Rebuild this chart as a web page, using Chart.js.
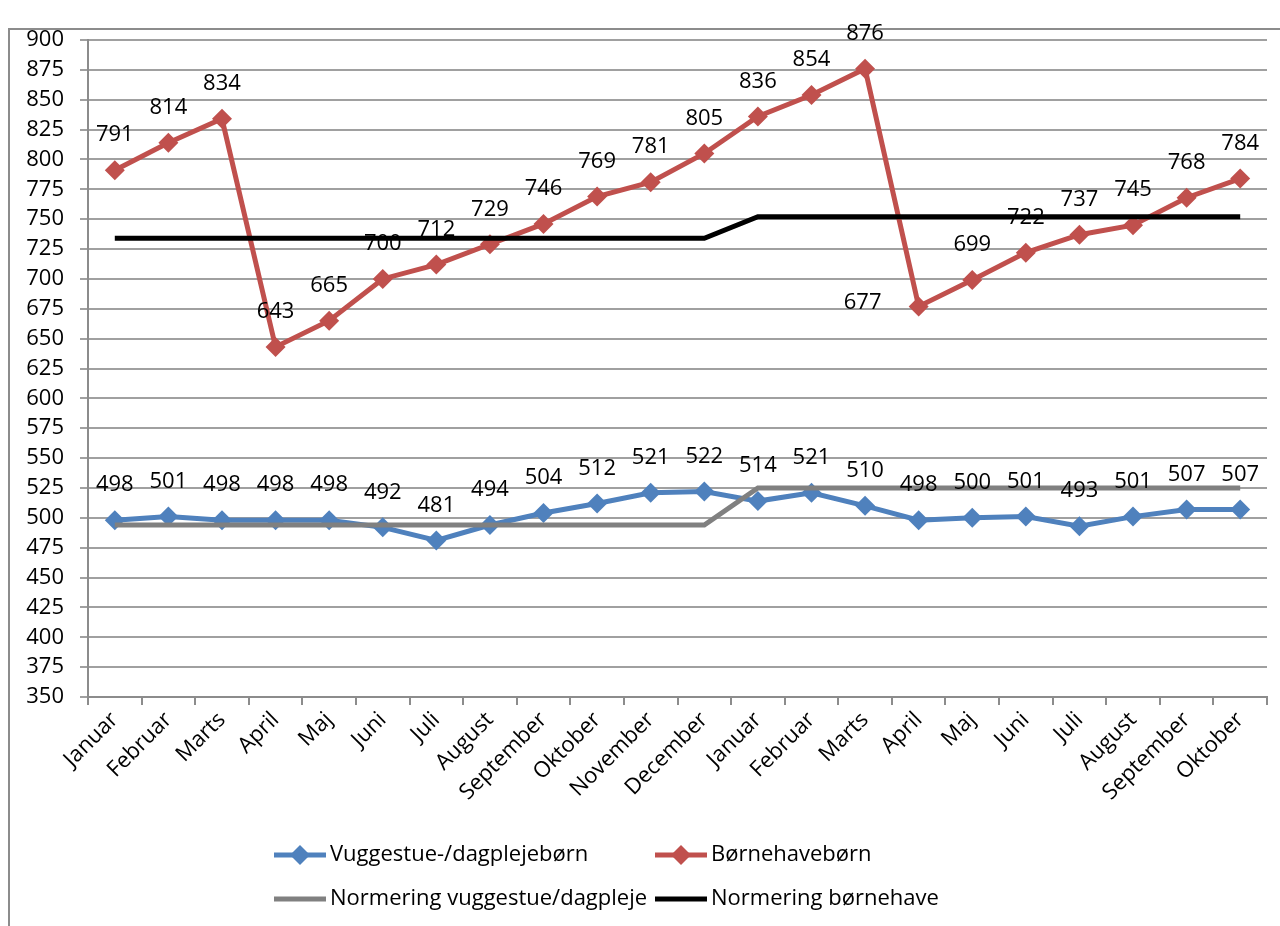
<!DOCTYPE html>
<html>
<head>
<meta charset="utf-8">
<script src="https://cdn.jsdelivr.net/npm/chart.js@4"></script>
<style>
  html, body { margin:0; padding:0; background:#fff; }
  #wrap { width:1280px; height:926px; }
</style>
</head>
<body>
<div id="wrap"><canvas id="c" width="1280" height="926"></canvas></div>
<script>
// måneder (to år)
const months = ["Januar","Februar","Marts","April","Maj","Juni","Juli","August","September","Oktober","November","December",
                "Januar","Februar","Marts","April","Maj","Juni","Juli","August","September","Oktober"];

const vuggestue = [498,501,498,498,498,492,481,494,504,512,521,522,514,521,510,498,500,501,493,501,507,507];
const boernehave = [791,814,834,643,665,700,712,729,746,769,781,805,836,854,876,677,699,722,737,745,768,784];
const normVuggestue = [494,494,494,494,494,494,494,494,494,494,494,494,525,525,525,525,525,525,525,525,525,525];
const normBoernehave = [734,734,734,734,734,734,734,734,734,734,734,734,752,752,752,752,752,752,752,752,752,752];

const yMin = 350, yMax = 900, yStep = 25;

const FONT = "'Open Sans', 'Noto Sans', sans-serif";
const FS = 22;

// labels over punkterne
const labelPlugin = {
    id: 'labels',
    afterDatasetsDraw(chart){
        const ctx = chart.ctx;
        ctx.save();
        ctx.font = FS + "px " + FONT;
        ctx.fillStyle = "#000";
        ctx.textAlign = "center";
        ctx.textBaseline = "middle";
        [0,1].forEach(di=>{
            const meta = chart.getDatasetMeta(di);
            const data = chart.data.datasets[di].data;
            meta.data.forEach((pt,i)=>{
                let dx = 0, dy = -35;
                if(di===1 && i===15){ dx = -56; dy = -4; }
                ctx.fillText(data[i], pt.x+dx, pt.y+dy);
            });
        });
        ctx.restore();
    }
};

// ramme + legend
const framePlugin = {
    id: 'frame',
    beforeDraw(chart){
        const ctx = chart.ctx;
        ctx.save();
        ctx.fillStyle = "#fff";
        ctx.fillRect(0,0,chart.width,chart.height);
        ctx.strokeStyle = "#8c8c8c";
        ctx.lineWidth = 2;
        ctx.strokeRect(9,29,1400,1000);
        ctx.restore();
    },
    afterDraw(chart){
        const ctx = chart.ctx;
        const ds = chart.data.datasets;
        const pos = [[274,855],[655,855],[274,899],[655,899]];
        ctx.save();
        ctx.font = FS + "px " + FONT;
        ctx.textBaseline = "middle";
        ctx.textAlign = "left";
        ds.forEach((d,k)=>{
            const [x,y] = pos[k];
            ctx.strokeStyle = d.borderColor;
            ctx.lineWidth = 5;
            ctx.beginPath();
            ctx.moveTo(x,y); ctx.lineTo(x+52,y);
            ctx.stroke();
            if(d.pointRadius>0){
                ctx.fillStyle = d.borderColor;
                ctx.beginPath();
                ctx.moveTo(x+26,y-10); ctx.lineTo(x+36,y); ctx.lineTo(x+26,y+10); ctx.lineTo(x+16,y);
                ctx.closePath(); ctx.fill();
            }
            ctx.fillStyle = "#000";
            ctx.fillText(d.label, x+56, y);
        });
        ctx.restore();
    }
};

new Chart(document.getElementById('c'),{
    type:'line',
    data:{
        labels: months,
        datasets:[
            {label:"Vuggestue-/dagplejebørn", data:vuggestue, borderColor:"#4F81BD", backgroundColor:"#4F81BD",
             borderWidth:5, pointStyle:'rectRot', pointRadius:10, pointBorderWidth:0, tension:0, order:3},
            {label:"Børnehavebørn", data:boernehave, borderColor:"#C0504D", backgroundColor:"#C0504D",
             borderWidth:5, pointStyle:'rectRot', pointRadius:10, pointBorderWidth:0, tension:0, order:2},
            {label:"Normering vuggestue/dagpleje", data:normVuggestue, borderColor:"#808080", backgroundColor:"#808080",
             borderWidth:5, pointRadius:0, tension:0, order:1},
            {label:"Normering børnehave", data:normBoernehave, borderColor:"#000000", backgroundColor:"#000000",
             borderWidth:5, pointRadius:0, tension:0, order:0}
        ]
    },
    options:{
        responsive:false,
        animation:false,
        layout:{padding:{left:10, right:13, top:40, bottom:0}},
        plugins:{legend:{display:false}, tooltip:{enabled:false}},
        scales:{
            x:{
                offset:true,
                grid:{display:true, drawOnChartArea:false, drawTicks:true, tickLength:8, color:"#8c8c8c", lineWidth:2, offset:true},
                border:{color:"#8c8c8c", width:2},
                ticks:{color:"#000", font:{size:FS, family:FONT}, maxRotation:45, minRotation:45, autoSkip:false, padding:2},
                afterFit(s){ s.height = 229; }
            },
            y:{
                min:yMin, max:yMax,
                grid:{color:"#a0a0a0", lineWidth:2, tickLength:8},
                border:{color:"#8c8c8c", width:2},
                ticks:{stepSize:yStep, color:"#000", font:{size:FS, family:FONT}, padding:16, autoSkip:false},
                afterFit(s){ s.width = 78; }
            }
        }
    },
    plugins:[framePlugin, labelPlugin]
});
</script>
</body>
</html>
